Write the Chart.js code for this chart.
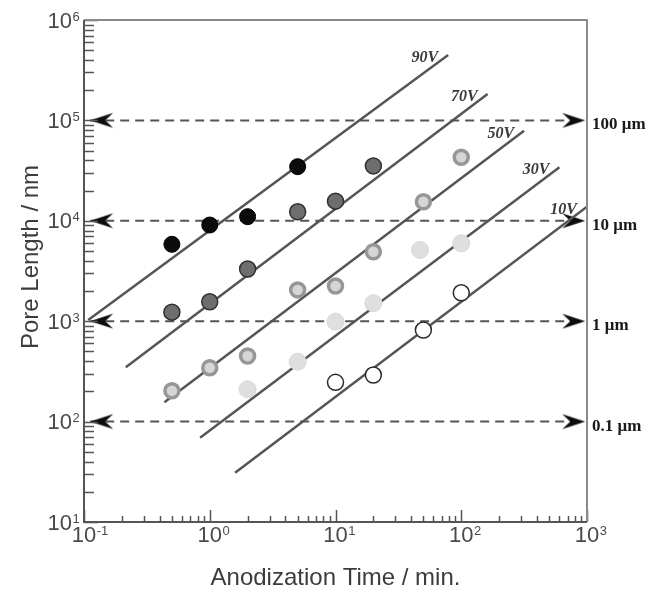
<!DOCTYPE html>
<html>
<head>
<meta charset="utf-8">
<script src="https://cdn.jsdelivr.net/npm/chart.js@4.4.1/dist/chart.umd.min.js"></script>
<style>
  html, body { margin: 0; padding: 0; background: #fff; }
  canvas { display: block; }
</style>
</head>
<body>
<canvas id="poreChart" width="653" height="589"></canvas>
<script>
// pore length (nm) vs anodization time (min) for each anodization voltage
const times90 = [0.5, 1, 2, 5];
const length90 = [5830, 9080, 10990, 34600];
const times70 = [0.5, 1, 2, 5, 10, 20];
const length70 = [1230, 1560, 3310, 12300, 15700, 35200];
const times50 = [0.5, 1, 2, 5, 10, 20, 50, 100];
const length50 = [203, 344, 450, 2050, 2240, 4920, 15500, 42900];
const times30 = [2, 5, 10, 20, 47, 100];
const length30 = [210, 395, 990, 1510, 5120, 5970];
const times10 = [10, 20, 50, 100];
const length10 = [246, 291, 817, 1920];

// straight fit lines (start / end) for each voltage
const fitNames = ['90V', '70V', '50V', '30V', '10V'];
const fitTimes = [[0.108, 78.7], [0.215, 162], [0.436, 316], [0.838, 604], [1.59, 1000]];
const fitLengths = [[1030, 448000], [348, 183000], [156, 78900], [69.2, 34100], [31.0, 13800]];

// reference levels with arrows
const refLengths = [1e5, 1e4, 1e3, 1e2];
const refNames = ['100 \u03bcm', '10 \u03bcm', '1 \u03bcm', '0.1 \u03bcm'];
const arrowTimes = [0.112, 968];

// axis decades
const xExps = [-1, 0, 1, 2, 3];
const yExps = [1, 2, 3, 4, 5, 6];

const pts = (xs, ys) => xs.map((v, i) => ({ x: v, y: ys[i] }));

// dart shaped arrow head, tip in the middle of the canvas
function makeArrow() {
    const c = document.createElement('canvas');
    c.width = 50; c.height = 18;
    const g = c.getContext('2d');
    g.fillStyle = '#0d0d0d';
    g.beginPath();
    g.moveTo(25, 9);
    g.lineTo(2, 1.5);
    g.lineTo(10, 9);
    g.lineTo(2, 16.5);
    g.closePath();
    g.fill();
    return c;
}
const arrow = makeArrow();

const seriesStyle = [
    { t: times90, l: length90, bg: '#0b0b0b', bc: '#000', bw: 1, r: 8 },
    { t: times70, l: length70, bg: '#6e6e6e', bc: '#303030', bw: 1.5, r: 8 },
    { t: times50, l: length50, bg: '#d6d6d6', bc: '#979797', bw: 3.5, r: 7 },
    { t: times30, l: length30, bg: '#dfdfdf', bc: '#d8d8d8', bw: 1, r: 8.5 },
    { t: times10, l: length10, bg: '#fff', bc: '#2a2a2a', bw: 1.5, r: 8 },
];

const datasets = [];
seriesStyle.forEach((s, i) => {
    datasets.push({
        label: fitNames[i],
        data: pts(s.t, s.l),
        pointRadius: s.r,
        pointBackgroundColor: s.bg,
        pointBorderColor: s.bc,
        pointBorderWidth: s.bw,
        showLine: false,
        order: 0,
    });
});
fitNames.forEach((name, i) => {
    datasets.push({
        label: name + ' fit',
        data: pts(fitTimes[i], fitLengths[i]),
        showLine: true,
        borderColor: '#555',
        borderWidth: 2.5,
        pointRadius: 0,
        order: 1,
    });
});
refLengths.forEach((v, i) => {
    datasets.push({
        label: refNames[i],
        data: arrowTimes.map(t => ({ x: t, y: v })),
        showLine: true,
        borderColor: '#555',
        borderWidth: 2,
        borderDash: [9, 6],
        pointStyle: [arrow, arrow],
        pointRotation: [180, 0],
        pointRadius: 8,
        clip: false,
        order: 2,
    });
});

function drawPower(ctx, exp, px, py, align) {
    ctx.font = '22px "Liberation Sans", Arial, sans-serif';
    const w = ctx.measureText('10').width;
    if (align === 'x') {
        ctx.textAlign = 'center';
        ctx.fillText('10', px, py);
        ctx.font = '13px "Liberation Sans", Arial, sans-serif';
        ctx.textAlign = 'left';
        ctx.fillText(String(exp), px + w / 2 + 0.5, py - 7);
    } else {
        ctx.textAlign = 'right';
        ctx.fillText('10', px, py);
        ctx.font = '13px "Liberation Sans", Arial, sans-serif';
        ctx.textAlign = 'left';
        ctx.fillText(String(exp), px + 0.5, py - 7);
    }
}

// ticks, frame, labels and titles
const axisDecor = {
    id: 'axisDecor',
    afterDatasetsDraw(chart) {
        const { ctx, chartArea: a, scales: { x, y } } = chart;
        ctx.save();

        // inner ticks
        ctx.strokeStyle = '#555';
        ctx.lineWidth = 1.5;
        ctx.beginPath();
        for (let d = xExps[0]; d <= xExps[xExps.length - 1]; d++) {
            for (let k = 1; k <= 9; k++) {
                if (d === xExps[xExps.length - 1] && k > 1) break;
                const px = Math.round(x.getPixelForValue(k * Math.pow(10, d))) + 0.5;
                const len = k === 1 ? 12 : 6;
                ctx.moveTo(px, a.bottom);
                ctx.lineTo(px, a.bottom - len);
            }
        }
        for (let d = yExps[0]; d <= yExps[yExps.length - 1]; d++) {
            for (let k = 1; k <= 9; k++) {
                if (d === yExps[yExps.length - 1] && k > 1) break;
                const py = Math.round(y.getPixelForValue(k * Math.pow(10, d))) + 0.5;
                const len = k === 1 ? 14 : 10;
                ctx.moveTo(a.left, py);
                ctx.lineTo(a.left + len, py);
            }
        }
        ctx.stroke();

        // frame
        ctx.lineWidth = 2;
        ctx.strokeStyle = '#8a8a8a';
        ctx.beginPath();
        ctx.moveTo(a.left, a.top);
        ctx.lineTo(a.right, a.top);
        ctx.lineTo(a.right, a.bottom);
        ctx.stroke();
        ctx.strokeStyle = '#555';
        ctx.beginPath();
        ctx.moveTo(a.left, a.top);
        ctx.lineTo(a.left, a.bottom);
        ctx.lineTo(a.right, a.bottom);
        ctx.stroke();

        // voltage names at the end of each fit line
        ctx.fillStyle = '#3a3a3a';
        ctx.font = 'italic bold 16px "Liberation Serif", "Times New Roman", serif';
        ctx.textAlign = 'right';
        fitNames.forEach((name, i) => {
            const ex = x.getPixelForValue(fitTimes[i][1]);
            const ey = y.getPixelForValue(fitLengths[i][1]);
            ctx.fillText(name, ex - 10, ey + 7);
        });

        // micrometre marks on the right
        ctx.fillStyle = '#1a1a1a';
        ctx.font = 'bold 17px "Liberation Serif", "Times New Roman", serif';
        ctx.textAlign = 'left';
        refLengths.forEach((v, i) => {
            ctx.fillText(refNames[i], a.right + 5, y.getPixelForValue(v) + 9);
        });

        // power-of-ten tick labels
        ctx.fillStyle = '#4a4a4a';
        xExps.forEach(e => drawPower(ctx, e, x.getPixelForValue(Math.pow(10, e)), a.bottom + 20, 'x'));
        yExps.forEach(e => drawPower(ctx, e, a.left - 12, y.getPixelForValue(Math.pow(10, e)) + 7.5, 'y'));

        // axis titles
        ctx.fillStyle = '#3c3c3c';
        ctx.font = '24px "Liberation Sans", Arial, sans-serif';
        ctx.textAlign = 'center';
        ctx.fillText('Anodization Time / min.', (a.left + a.right) / 2, 585);
        ctx.translate(38, 257);
        ctx.rotate(-Math.PI / 2);
        ctx.fillText('Pore Length / nm', 0, 0);

        ctx.restore();
    }
};

new Chart(document.getElementById('poreChart').getContext('2d'), {
    type: 'scatter',
    data: { datasets },
    options: {
        responsive: false,
        animation: false,
        events: [],
        layout: { padding: { left: 84, top: 20, right: 66, bottom: 67 } },
        plugins: { legend: { display: false }, tooltip: { enabled: false } },
        scales: {
            x: { type: 'logarithmic', min: 0.1, max: 1000, display: false },
            y: { type: 'logarithmic', min: 10, max: 1e6, display: false },
        },
    },
    plugins: [axisDecor],
});
</script>
</body>
</html>
